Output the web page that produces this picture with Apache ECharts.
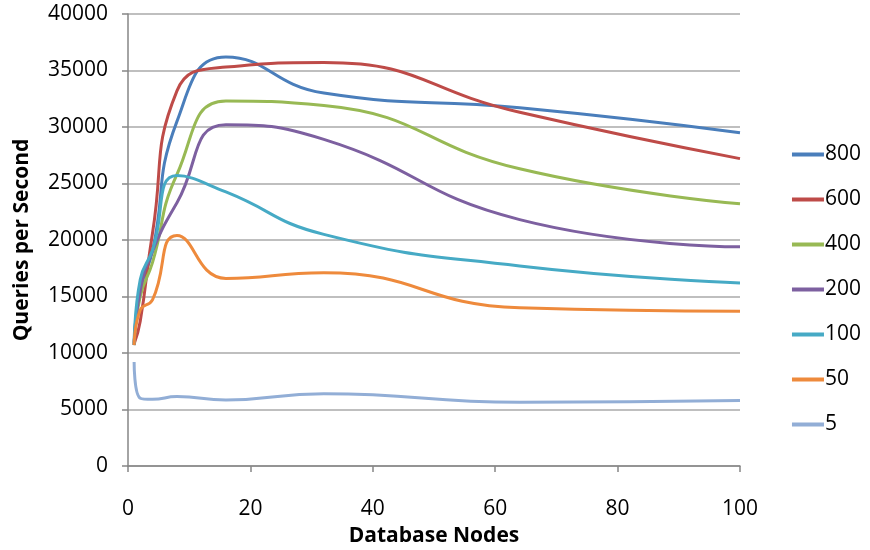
<!DOCTYPE html>
<html>
<head>
<meta charset="utf-8">
<script src="https://cdn.jsdelivr.net/npm/echarts@6/dist/echarts.min.js"></script>
<style>
  html, body { margin: 0; padding: 0; background: #fff; }
  #chart { width: 870px; height: 550px; }
</style>
</head>
<body>
<div id="chart"></div>
<script>
// database node counts where each run was measured
const nodes = [1, 2, 4, 8, 16, 32, 64, 100];

// queries per second, one list per client count
const s800 = [10900, 15600, 19000, 30500, 36200, 33000, 31700, 29500];
const s600 = [10800, 12800, 20600, 33200, 35300, 35700, 31300, 27200];
const s400 = [10700, 15000, 18000, 25800, 32300, 31900, 26300, 23200];
const s200 = [10700, 15500, 19000, 23300, 30200, 28900, 21800, 19400];
const s100 = [10700, 16500, 19100, 25700, 24250, 20500, 17700, 16200];
const s50 = [10700, 13800, 14700, 20400, 16600, 17100, 14000, 13700];
const s5 = [9200, 6000, 5900, 6150, 5850, 6400, 5650, 5800];

const seriesNames = ['800', '600', '400', '200', '100', '50', '5'];
const seriesData = [s800, s600, s400, s200, s100, s50, s5];
const colors = ['#4A7EBB', '#BE4B48', '#98B954', '#7D60A0', '#46AAC5', '#EE8A3C', '#92AED6'];

const font = "'Open Sans', sans-serif";

const chart = echarts.init(document.getElementById('chart'));

const series = seriesNames.map((name, i) => ({
    name: name,
    type: 'line',
    smooth: 0.5,
    showSymbol: false,
    symbol: 'none',
    data: nodes.map((x, j) => [x, seriesData[i][j]]),
    lineStyle: { width: 3, color: colors[i] },
    itemStyle: { color: colors[i] }
}));

chart.setOption({
    animation: false,
    grid: { left: 128, right: 130, top: 14, bottom: 84, outerBoundsMode: 'none' },
    legend: {
        orient: 'vertical',
        right: 4,
        top: 139,
        itemWidth: 32,
        itemHeight: 14,
        itemGap: 24,
        icon: 'path://M0,5 L34,5 L34,9 L0,9 Z',
        textStyle: { fontFamily: font, fontSize: 21, color: '#000', padding: [0, 0, 0, -4] },
        data: seriesNames
    },
    xAxis: {
        type: 'value',
        min: 0,
        max: 100,
        interval: 20,
        name: 'Database Nodes',
        nameLocation: 'middle',
        nameGap: 60,
        nameTextStyle: { fontFamily: font, fontSize: 21, fontWeight: 'bold', color: '#000' },
        axisLine: { show: true, lineStyle: { color: '#868686', width: 1.5 } },
        axisTick: { show: true, length: 6, lineStyle: { color: '#868686', width: 1.5 } },
        axisLabel: { fontFamily: font, fontSize: 21, color: '#000', margin: 33 },
        splitLine: { show: false }
    },
    yAxis: {
        type: 'value',
        min: 0,
        max: 40000,
        interval: 5000,
        name: 'Queries per Second',
        nameLocation: 'middle',
        nameGap: 95,
        nameTextStyle: { fontFamily: font, fontSize: 21, fontWeight: 'bold', color: '#000' },
        axisLine: { show: true, lineStyle: { color: '#868686', width: 1.5 } },
        axisTick: { show: true, length: 6, lineStyle: { color: '#868686', width: 1.5 } },
        axisLabel: { fontFamily: font, fontSize: 21, color: '#000', margin: 20, formatter: v => String(v) },
        splitLine: { show: true, lineStyle: { color: '#AAAAAA', width: 1.5 } }
    },
    series: series
});
</script>
</body>
</html>
